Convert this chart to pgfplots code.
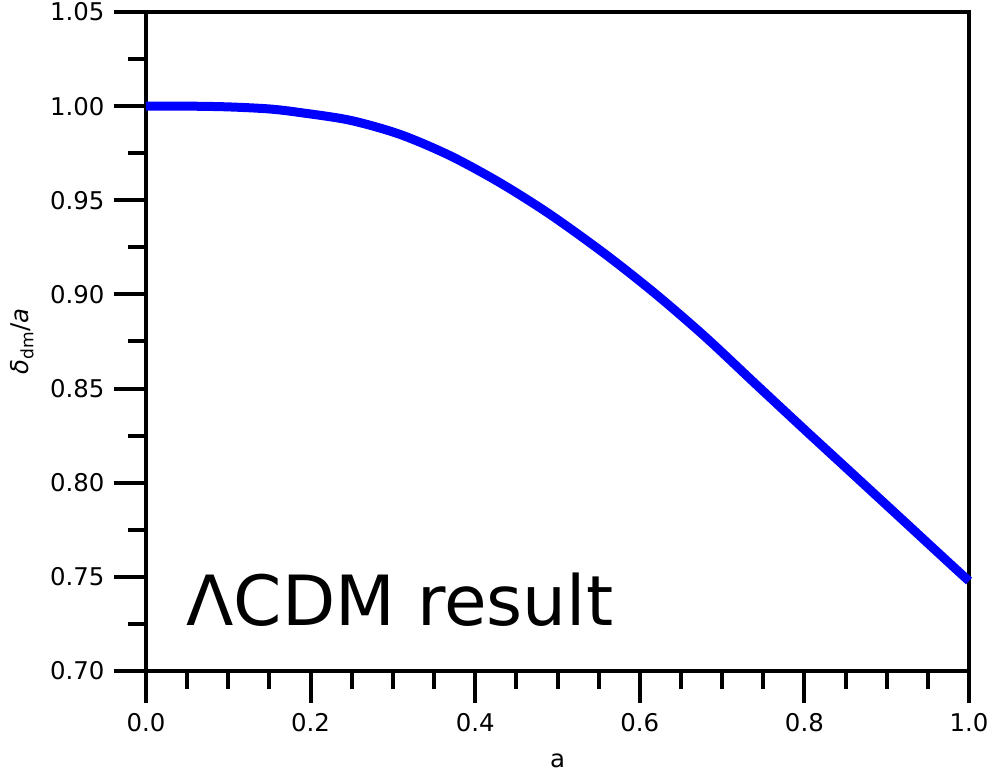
\documentclass[border=0pt]{standalone}
\usepackage{fontspec}
\setmainfont{DejaVu Sans}
\usepackage{pgfplots}
\pgfplotsset{compat=1.18}
\begin{document}
\begin{tikzpicture}
\useasboundingbox (-146bp,-103bp) rectangle (849bp,671bp);
\begin{axis}[
  scale only axis,
  width=823bp, height=659bp,
  xmin=0, xmax=1, ymin=0.70, ymax=1.05,
  xtick={0,0.2,0.4,0.6,0.8,1.0},
  ytick={0.70,0.75,0.80,0.85,0.90,0.95,1.00,1.05},
  minor x tick num=3,
  minor y tick num=1,
  tick pos=left,
  tick align=outside,
  major tick length=32bp,
  minor tick length=18bp,
  every tick/.style={black, line width=4bp},
  axis line style={line width=4bp},
  /pgf/number format/assume math mode=true,
  xticklabel style={/pgf/number format/.cd, fixed, fixed zerofill, precision=1, /tikz/.cd, font=\fontsize{24.5}{29}\selectfont, yshift=-7bp},
  yticklabel style={/pgf/number format/.cd, fixed, fixed zerofill, precision=2, /tikz/.cd, font=\fontsize{24.5}{29}\selectfont, xshift=-6bp},
  xlabel={a},
  ylabel={{\itshape δ}\textsubscript{dm}/{\itshape a}},
  label style={font=\fontsize{24.5}{29}\selectfont},
  xlabel style={at={(axis description cs:0.5,-0.1457)}, anchor=base},
  ylabel style={at={(axis description cs:-0.1422,0.5)}, anchor=base},
  clip=false,
]
\addplot[blue, line width=9bp, smooth] coordinates {
(0.0000,1.0000) (0.0500,1.0000) (0.1000,0.9996) (0.1500,0.9985)
(0.1871,0.9966) (0.2479,0.9925) (0.3086,0.9850) (0.3694,0.9737)
(0.4301,0.9593) (0.4909,0.9425) (0.5577,0.9215) (0.6185,0.9005)
(0.6792,0.8776) (0.7400,0.8527) (0.8007,0.8280) (0.8554,0.8060)
(0.9162,0.7815) (0.9769,0.7570) (1.0000,0.7478)
};
\node[anchor=base west, font=\fontsize{69.5}{84}\selectfont, inner sep=0pt] at (axis cs:0.049,0.724) {ΛCDM result};
\end{axis}
\end{tikzpicture}
\end{document}
